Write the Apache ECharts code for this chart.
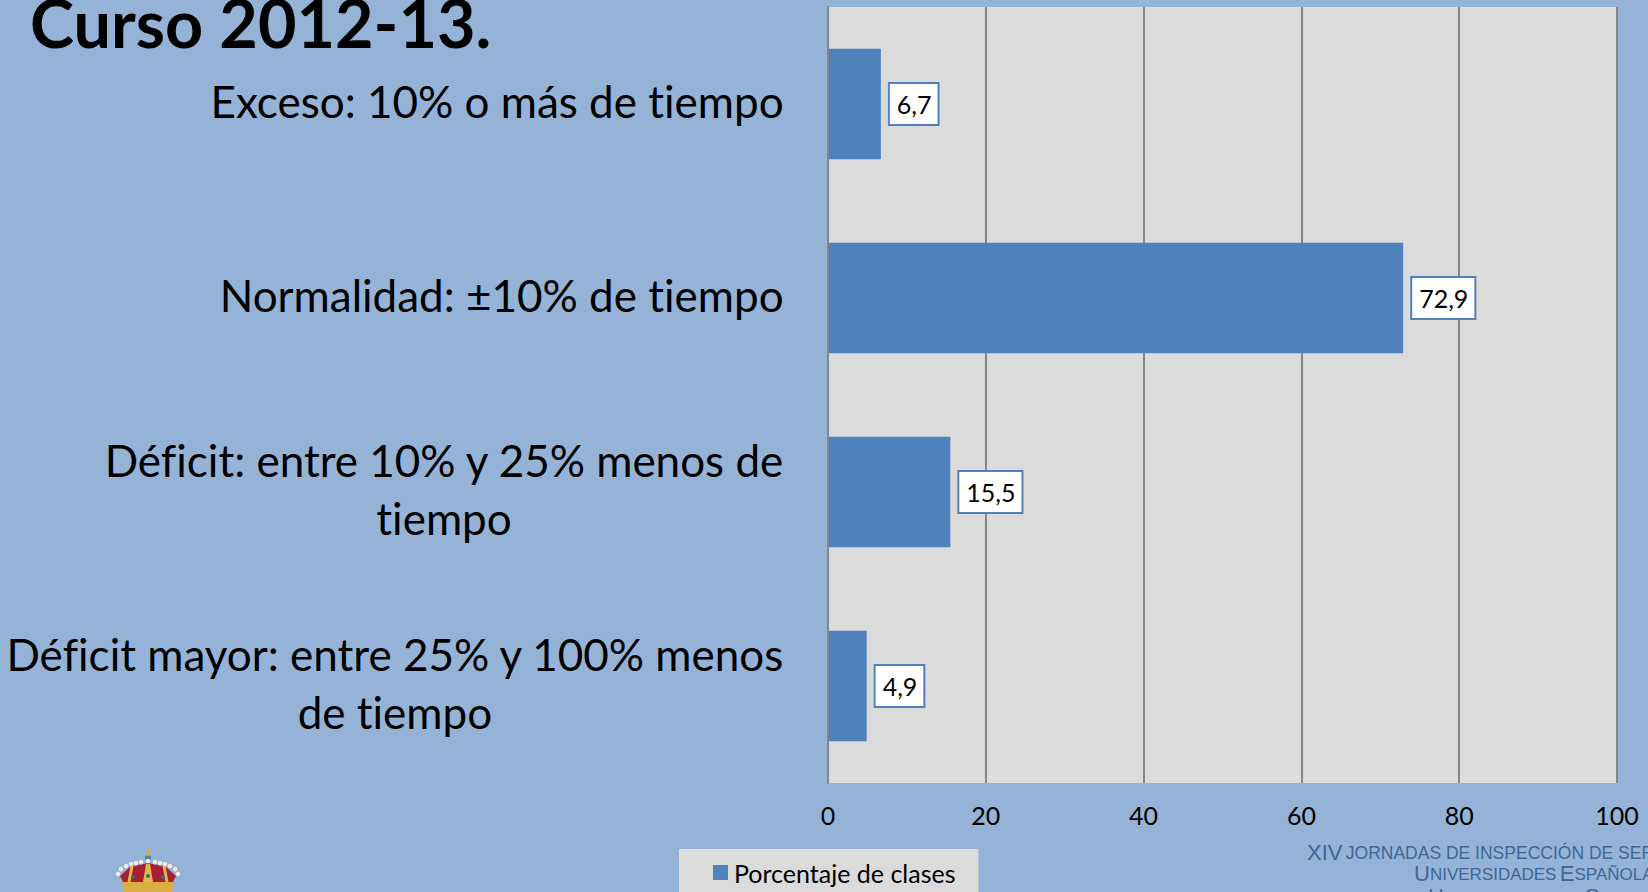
<!DOCTYPE html>
<html>
<head>
<meta charset="utf-8">
<script src="https://cdn.jsdelivr.net/npm/echarts@6/dist/echarts.min.js"></script>
<style>
	html, body { margin: 0; padding: 0; width: 100%; height: 100%; background: #95B3D7; overflow: hidden; }
	#chartBox { width: 1648px; height: 892px; font-variant-ligatures: none; }
	#chartBox text { font-variant-ligatures: none; }
</style>
</head>
<body>
<div id="chartBox"></div>
<script>
	var categories = [
		'Déficit mayor: entre 25% y 100% menos\nde tiempo',
		'Déficit: entre 10% y 25% menos de\ntiempo',
		'Normalidad: ±10% de tiempo',
		'Exceso: 10% o más de tiempo'
	];
	var seriesName = 'Porcentaje de clases';
	var values = [4.9, 15.5, 72.9, 6.7];
	var titleText = 'Curso 2012-13.';

	var font = 'Lato';
	var footColor = '#3F6797';
	// svg so the css above can switch off the "ti" ligature
	var chart = echarts.init(document.getElementById('chartBox'), null, { renderer: 'svg' });

	// escudo: corona recortada abajo a la izquierda
	var pearls = [];
	[[118, 874], [121, 869], [126, 866], [131, 864], [136, 863], [141, 862], [148, 861], [155, 862], [160, 863], [165, 864], [170, 866], [175, 869], [178, 874]].forEach(function (p) {
		pearls.push({ type: 'circle', shape: { cx: p[0], cy: p[1], r: 2.2 }, style: { fill: '#F3EFE0' } });
	});
	var crown = [
		{ type: 'polygon', shape: { points: [[120, 876], [130, 867], [148, 863], [166, 867], [176, 876], [172, 884], [124, 884]] }, style: { fill: '#A81E33' } },
		{ type: 'polygon', shape: { points: [[122, 882], [174, 882], [172, 892], [124, 892]] }, style: { fill: '#D9AE3E' } },
		{ type: 'polygon', shape: { points: [[146, 864], [150, 864], [153, 882], [143, 882]] }, style: { fill: '#E0B84A' } },
		{ type: 'polyline', shape: { points: [[132, 866], [129, 882]] }, style: { stroke: '#E0B84A', lineWidth: 3, fill: null } },
		{ type: 'polyline', shape: { points: [[164, 866], [167, 882]] }, style: { stroke: '#E0B84A', lineWidth: 3, fill: null } },
		{ type: 'circle', shape: { cx: 148, cy: 858, r: 3.2 }, style: { fill: '#4E8C8C' } },
		{ type: 'rect', shape: { x: 147, y: 850, width: 2, height: 6 }, style: { fill: '#D9AE3E' } },
		{ type: 'rect', shape: { x: 145, y: 852, width: 6, height: 2 }, style: { fill: '#D9AE3E' } },
		{ type: 'circle', shape: { cx: 133, cy: 877, r: 2 }, style: { fill: '#2F6F86' } },
		{ type: 'circle', shape: { cx: 148, cy: 876, r: 2 }, style: { fill: '#2F6F86' } },
		{ type: 'circle', shape: { cx: 163, cy: 877, r: 2 }, style: { fill: '#2F6F86' } }
	].concat(pearls);

	// versalitas: mayuscula grande y resto pequeno, sobre la misma base
	function footRich(small) {
		return {
			b: { fontFamily: 'Liberation Sans', fontSize: 22, lineHeight: 20, fill: footColor },
			s: { fontFamily: 'Liberation Sans', fontSize: small, lineHeight: 18, verticalAlign: 'bottom', fill: footColor }
		};
	}

	var option = {
		backgroundColor: '#95B3D7',
		animation: false,
		textStyle: { fontFamily: font },
		title: {
			text: titleText,
			left: 30,
			top: -12,
			padding: 0,
			textStyle: { fontFamily: font, fontSize: 66.5, fontWeight: 'bold', color: '#000' }
		},
		legend: {
			data: [seriesName],
			left: 679,
			top: 849,
			padding: [11, 23, 12, 34],
			backgroundColor: '#DBDBDB',
			itemWidth: 15,
			itemHeight: 15,
			icon: 'rect',
			itemGap: 6,
			textStyle: { fontFamily: font, fontSize: 25, color: '#000', padding: [0, 0, 3, 1] }
		},
		grid: { left: 828, top: 7, width: 789, height: 776, backgroundColor: '#DBDBDB', show: true, borderWidth: 0 },
		xAxis: {
			type: 'value',
			min: 0,
			max: 100,
			interval: 20,
			axisLine: { show: false },
			axisTick: { show: false },
			splitLine: { lineStyle: { color: '#868686', width: 2 } },
			axisLabel: { color: '#000', fontFamily: font, fontSize: 25, margin: 19 }
		},
		yAxis: {
			type: 'category',
			data: categories,
			z: 3,
			axisLine: { lineStyle: { color: '#868686', width: 2 } },
			axisTick: { show: false },
			axisLabel: {
				margin: 44,
				padding: [0, 0, 6, 0],
				formatter: function (val) {
					return val.split('\n').map(function (l) { return '{c|' + l + '}'; }).join('\n');
				},
				rich: {
					c: { fontFamily: font, fontSize: 44, color: '#000', align: 'center', lineHeight: 58 }
				}
			}
		},
		series: [{
			name: seriesName,
			type: 'bar',
			data: values,
			barCategoryGap: '43%',
			itemStyle: { color: '#4F81BD' },
			label: {
				show: true,
				position: 'right',
				distance: 9,
				formatter: function (p) { return String(p.value).replace('.', ','); },
				color: '#000',
				fontFamily: font,
				fontSize: 25,
				backgroundColor: '#fff',
				borderColor: '#4F81BD',
				borderWidth: 2,
				padding: [8, 6, 7, 7]
			}
		}],
		graphic: [
			{ type: 'group', silent: true, children: crown },
			{
				type: 'text', left: 1307, top: 841, silent: true,
				style: { text: '{b|XIV} {s|JORNADAS DE INSPECCIÓN DE SER}', rich: footRich(17.5) }
			},
			{
				type: 'text', left: 1414, top: 862, silent: true,
				style: { text: '{b|U}{s|NIVERSIDADES} {b|E}{s|SPAÑOLA}', rich: footRich(17) }
			},
			{ type: 'text', left: 1428, top: 885, silent: true, style: { text: 'H', fill: footColor, fontFamily: 'Liberation Sans', fontSize: 22 } },
			{ type: 'text', left: 1585, top: 885, silent: true, style: { text: 'S', fill: footColor, fontFamily: 'Liberation Sans', fontSize: 22 } }
		]
	};
	chart.setOption(option);
</script>
</body>
</html>
